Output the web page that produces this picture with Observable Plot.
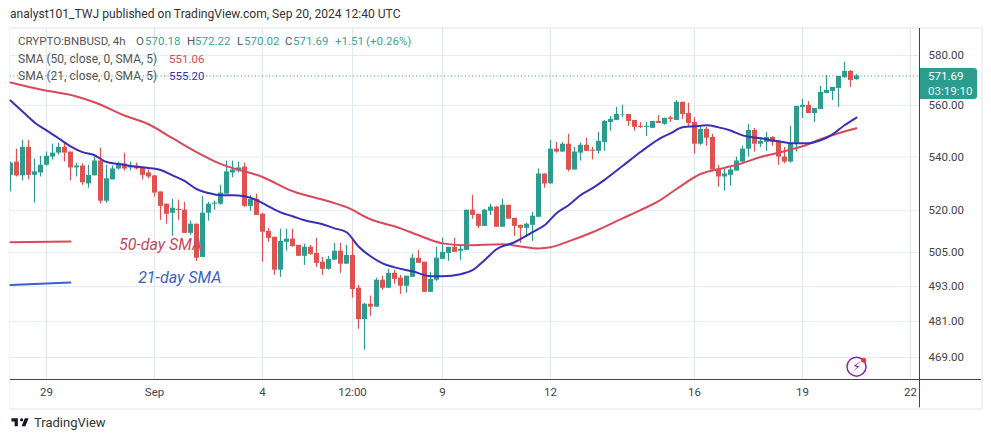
<!DOCTYPE html>
<html><head><meta charset="utf-8">
<script src="https://cdn.jsdelivr.net/npm/d3@7"></script>
<script src="https://cdn.jsdelivr.net/npm/@observablehq/plot@0.6"></script>
<style>
html,body{margin:0;padding:0;background:#fff;width:991px;height:442px;overflow:hidden;font-family:Roboto,sans-serif}
#page{position:relative;width:991px;height:442px}
#title{position:absolute;left:10px;top:7px;font-size:12.1px;color:#333;white-space:nowrap}
#frame{position:absolute;left:9px;top:27px;width:971px;height:379px;border:2px solid #f0f2f4;box-sizing:content-box;border-left-width:1px}
#chart{position:absolute;left:0;top:27px}
#chart svg{overflow:visible}
.h{position:absolute;font-size:11.5px;white-space:nowrap;line-height:14px}
.h.w{font-size:12px}
#tag{position:absolute;left:920px;top:68px;width:57px;height:31px;background:#2a9d8f;border-radius:0 3px 3px 0;color:#fff;font-size:11.5px;line-height:14.5px;padding-top:1px;box-sizing:border-box;text-align:left;padding-left:8px}
#tag div+div{opacity:.9}
#foot{position:absolute;left:10px;top:415px;display:flex;align-items:center;font-size:13px;color:#333}
#foot svg{margin-right:4px}
</style></head><body><div id="page">
<div id="frame"></div>
<div id="chart"></div>
<div id="title">analyst101_TWJ published on TradingView.com, Sep 20, 2024 12:40 UTC</div>
<div id="heads"></div>
<div id="tag"><div>571.69</div><div>03:19:10</div></div>
<div id="foot"><svg width="20" height="15" viewBox="0 0 36 28"><path fill="#131722" d="M14 6H2v6h6v9h6V6zm14 15h-7l6-15h7l-6 15zm-7-9a3 3 0 1 0 0-6 3 3 0 0 0 0 6z"/></svg>TradingView</div>
</div>
<script>
const opens=[533.1,538.1,532.9,543.7,533.1,534.0,536.9,540.0,541.5,543.7,
541.9,535.9,536.6,529.9,532.9,538.5,523.5,531.4,535.5,537.4,
535.9,536.6,535.9,534.0,532.9,526.9,522.4,519.1,520.5,520.2,
511.8,515.1,503.2,519.1,522.4,522.4,526.1,534.0,534.7,536.2,
521.6,524.2,518.7,512.5,510.4,498.7,508.6,509.7,507.5,503.6,
506.8,504.6,501.5,499.0,502.2,505.4,500.8,503.9,492.4,481.7,
486.9,485.9,495.2,492.4,497.6,495.9,493.1,496.2,502.9,501.5,
491.0,495.2,502.5,504.6,506.8,505.4,505.7,520.2,518.7,514.3,
519.8,521.3,514.0,522.0,517.2,514.7,513.6,514.7,517.6,533.6,
529.9,543.0,541.9,544.9,535.1,541.5,544.5,542.6,542.2,545.6,
553.3,554.1,556.0,556.4,554.1,551.8,551.4,551.0,553.7,552.6,
555.1,554.1,561.2,556.8,553.3,544.9,550.6,547.5,535.5,532.5,
533.1,534.7,538.1,543.0,550.2,544.9,545.6,547.5,545.6,540.0,
538.1,545.3,559.2,560.0,556.8,558.4,564.7,565.5,566.7,571.1,
573.5,570.18];
const closes=[537.7,532.9,543.7,533.1,534.4,536.9,540.3,541.5,543.7,541.5,
535.9,536.6,530.3,533.1,538.5,523.5,531.8,535.5,537.4,535.5,
536.6,535.5,533.1,532.5,526.5,521.6,518.7,520.9,520.1,511.8,
515.1,502.9,519.1,522.4,522.8,526.5,534.4,535.1,535.9,521.6,
524.2,518.3,512.2,510.0,498.7,508.9,509.7,507.1,503.6,506.8,
504.3,501.1,499.0,502.5,505.4,500.8,503.9,492.0,481.7,486.9,
485.9,495.2,492.4,497.6,495.5,493.1,496.6,502.9,501.1,491.0,
495.5,502.9,505.0,506.8,505.0,506.1,520.2,518.3,514.3,520.2,
521.3,514.0,522.0,516.9,514.3,513.6,515.1,518.0,533.6,529.9,
543.0,541.9,544.9,535.1,541.9,544.5,542.2,542.2,546.0,553.7,
554.5,556.4,556.2,553.7,551.4,551.4,551.8,553.7,552.9,554.9,
554.5,561.2,556.4,552.9,544.9,550.6,547.2,535.1,532.5,533.6,
535.1,538.5,543.0,550.2,544.9,546.0,547.5,545.6,540.0,538.1,
545.3,559.6,560.0,556.8,558.8,565.1,565.9,567.1,571.5,573.5,
569.9,571.69];
const highs=[538.1,543.0,546.4,546.4,539.2,540.3,541.9,544.9,545.3,545.6,
541.9,537.7,537.4,536.9,540.0,543.4,536.9,536.6,538.1,541.5,
538.1,537.7,536.2,535.1,533.1,526.9,522.4,524.2,523.9,523.1,
516.2,515.1,525.3,523.1,523.5,529.4,538.5,538.5,538.1,537.7,
525.7,526.1,519.1,513.6,510.4,513.3,513.3,513.3,507.5,507.9,
507.5,510.0,503.2,503.6,508.2,508.2,507.5,509.3,493.4,487.2,
489.7,495.9,496.6,499.0,498.7,496.9,496.6,504.3,505.7,501.5,
498.0,506.8,510.0,506.8,510.0,507.5,520.2,525.7,518.7,520.5,
522.4,521.6,524.2,522.0,517.2,514.7,515.4,519.4,535.5,533.6,
546.4,545.6,545.6,548.7,543.7,545.3,547.2,543.7,549.5,554.1,
555.6,559.2,560.0,556.4,554.1,553.3,553.3,553.7,556.0,554.9,
555.6,561.9,561.2,560.8,555.2,551.4,551.4,548.7,536.9,535.5,
536.2,540.0,544.1,552.6,551.0,547.5,549.5,547.9,546.4,543.7,
551.8,559.6,562.3,561.5,558.8,567.5,571.9,567.1,571.5,577.2,
573.9,572.22];
const lows=[526.9,532.5,531.0,531.4,522.8,532.5,536.6,538.9,540.7,538.1,
531.0,532.5,529.4,528.3,532.9,522.4,522.8,531.4,535.1,534.7,
534.7,535.1,531.4,531.8,525.0,516.5,515.1,510.7,516.5,511.8,
511.1,501.8,503.2,516.2,520.2,522.0,526.1,532.2,534.0,521.3,
519.8,518.3,501.5,508.6,496.9,496.2,505.4,506.8,503.6,500.4,
503.9,499.7,496.9,498.7,502.2,497.6,500.8,489.0,478.4,471.4,
482.8,485.9,491.7,492.4,493.8,490.3,490.7,496.2,501.1,491.0,
491.0,494.8,502.5,501.8,505.0,502.2,505.7,516.9,513.6,514.3,
518.3,514.0,514.0,516.9,510.7,508.2,510.4,508.9,517.6,528.3,
529.9,541.5,541.9,534.4,535.1,538.5,542.2,538.9,541.1,542.2,
549.9,554.1,555.2,551.8,549.9,551.0,547.9,551.0,552.9,552.2,
553.3,554.1,554.5,551.8,541.1,544.5,544.1,535.1,528.7,527.2,
529.1,534.7,537.7,540.0,541.9,543.7,542.2,544.1,536.9,537.4,
537.7,541.9,554.9,556.8,553.3,558.4,564.7,561.9,559.2,570.7,
567.1,570.02];
const sma21Bars=[0,2,4,6,8,10,12,14,16,18,20,23,25,27,29,31,33,35,37,39,41,43,45,47,49,52,54,56,58,60,62,64,67,70,72,75,77,79,81,84,87,89,91,93,95,97,99,102,105,108,110,112,114,116,118,120,122,125,128,130,133,135,137,139,141];
const sma21=[561.9,557.6,553.3,550.2,547.2,544.1,541.9,540.7,538.1,537.4,536.6,535.9,535.1,533.1,531.0,528.0,526.5,525.7,525.7,525.3,523.9,521.6,519.4,518.0,516.5,515.1,513.6,512.2,507.1,503.6,501.1,499.7,498.3,496.6,496.6,497.3,498.7,502.2,506.1,508.6,512.2,514.7,519.1,522.0,525.7,528.3,531.4,536.6,541.9,546.8,549.1,551.4,551.8,552.2,551.4,550.2,548.3,547.2,546.0,545.3,545.3,546.4,548.7,552.2,555.2];
const sma50Bars=[0,5,11,14,19,23,27,31,35,42,47,53,56,60,65,68,72,76,82,85,88,90,93,97,102,105,108,111,115,119,122,125,129,132,135,138,141];
const sma50=[569.1,566.3,563.5,561.2,556.0,552.6,547.2,541.9,537.4,532.5,527.2,523.5,521.3,516.9,513.6,511.1,508.2,507.5,507.9,507.1,506.4,506.8,508.9,512.2,517.2,520.2,523.5,528.0,533.6,535.9,537.7,540.0,542.2,544.1,546.8,549.1,551.06];
const priceTicks=[580,560,540,520,505,493,481,469];
const timeBars=[6,24,42,57,72,90,114,132,150];
const timeLabels=["29","Sep","4","12:00","9","12","16","19","22"];
const lastClose=571.69;

const UP="#2a9d8f",DOWN="#e0524d",S50="#d9495a",S21="#3a2fb8";
const candles=opens.map((o,i)=>({bar:i,o,c:closes[i],h:highs[i],l:lows[i],col:closes[i]>=o?UP:DOWN}));
const line=(b,v)=>b.map((x,i)=>({x,y:v[i]}));
const labelOf=new Map(timeBars.map((b,i)=>[b,timeLabels[i]]));

const plot=Plot.plot({
  width:991,height:381,marginLeft:10,marginRight:72,marginTop:1,marginBottom:29,
  style:{fontFamily:"Roboto,sans-serif",fontSize:"12px",background:"transparent",color:"#444"},
  x:{type:"linear",domain:[0,151.5]},
  y:{type:"log",domain:[461.8,591.1]},
  marks:[
    Plot.ruleY(priceTicks,{stroke:"#e4ebf0",strokeWidth:1}),
    Plot.ruleX(timeBars,{stroke:"#e0e8ee",strokeWidth:1}),
    Plot.ruleY([lastClose],{stroke:UP,strokeWidth:1,strokeDasharray:"1 2.5"}),
    Plot.ruleX(candles,{x:"bar",y1:"l",y2:"h",stroke:"col",strokeWidth:1.2,clip:true}),
    Plot.ruleX(candles,{x:"bar",y1:"o",y2:"c",stroke:"col",strokeWidth:5,clip:true}),
    Plot.line(line(sma50Bars,sma50),{x:"x",y:"y",stroke:S50,strokeWidth:2,curve:"monotone-x"}),
    Plot.line(line(sma21Bars,sma21),{x:"x",y:"y",stroke:S21,strokeWidth:2,curve:"monotone-x"}),
    Plot.line(line([0,10],[508.6,508.9]),{x:"x",y:"y",stroke:"#d9495a",strokeWidth:2}),
    Plot.line(line([0,10],[493.5,494.4]),{x:"x",y:"y",stroke:"#3a62c8",strokeWidth:2}),
    Plot.text(["50-day SMA"],{x:[25],y:[507.6],text:d=>d,fill:"#c9475c",fontSize:16,fontStyle:"italic"}),
    Plot.text(["21-day SMA"],{x:[28.2],y:[496.0],text:d=>d,fill:"#3a62c8",fontSize:16,fontStyle:"italic"}),
    Plot.dot([0],{x:[141],y:[466],r:9.5,fill:"none",stroke:"#8e24aa",strokeWidth:1.5}),
    Plot.dot([0],{x:[142.2],y:[468.1],r:2.5,fill:"#e53935"}),
    Plot.text(["⚡"],{x:[141],y:[466],text:d=>d,fill:"#8e24aa",fontSize:13,fontFamily:"DejaVu Sans"}),
    Plot.ruleX([151.5],{y1:452.7,y2:591.1,stroke:"#444",strokeWidth:1}),
    Plot.ruleY([461.8],{x1:0,x2:161.8,stroke:"#444",strokeWidth:1}),
    Plot.axisY(priceTicks,{anchor:"right",tickSize:0,tickPadding:9,label:null,fill:"#444",fontSize:11.5,tickFormat:d=>d.toFixed(2)}),
    Plot.axisX(timeBars,{anchor:"bottom",tickSize:0,tickPadding:8,label:null,fill:"#444",fontSize:11.5,tickFormat:d=>labelOf.get(d)})
  ]
});
document.getElementById("chart").append(plot);

const TXT="#555",VAL="#3aa597";
const heads=[
 ["CRYPTO:BNBUSD, 4h",18,34,TXT],["O",136,34,TXT],["570.18",145,34,VAL],["H",187,34,TXT],["572.22",195,34,VAL],["L",237,34,TXT],["570.02",244,34,VAL],["C",285,34,TXT],["571.69",293,34,VAL],["+1.51",335,34,VAL],["(+0.26%)",366,34,VAL],
 ["SMA (50, close, 0, SMA, 5)",18,52,TXT],["551.06",169,52,"#d9495a"],
 ["SMA (21, close, 0, SMA, 5)",18,69,TXT],["555.20",169,69,S21]];
const host=document.getElementById("heads");
for(const [t,x,y,c] of heads){const s=document.createElement("div");s.className=t.startsWith("SMA")?"h w":"h";s.textContent=t;s.style.left=x+"px";s.style.top=y+"px";s.style.color=c;host.append(s);}
</script></body></html>
